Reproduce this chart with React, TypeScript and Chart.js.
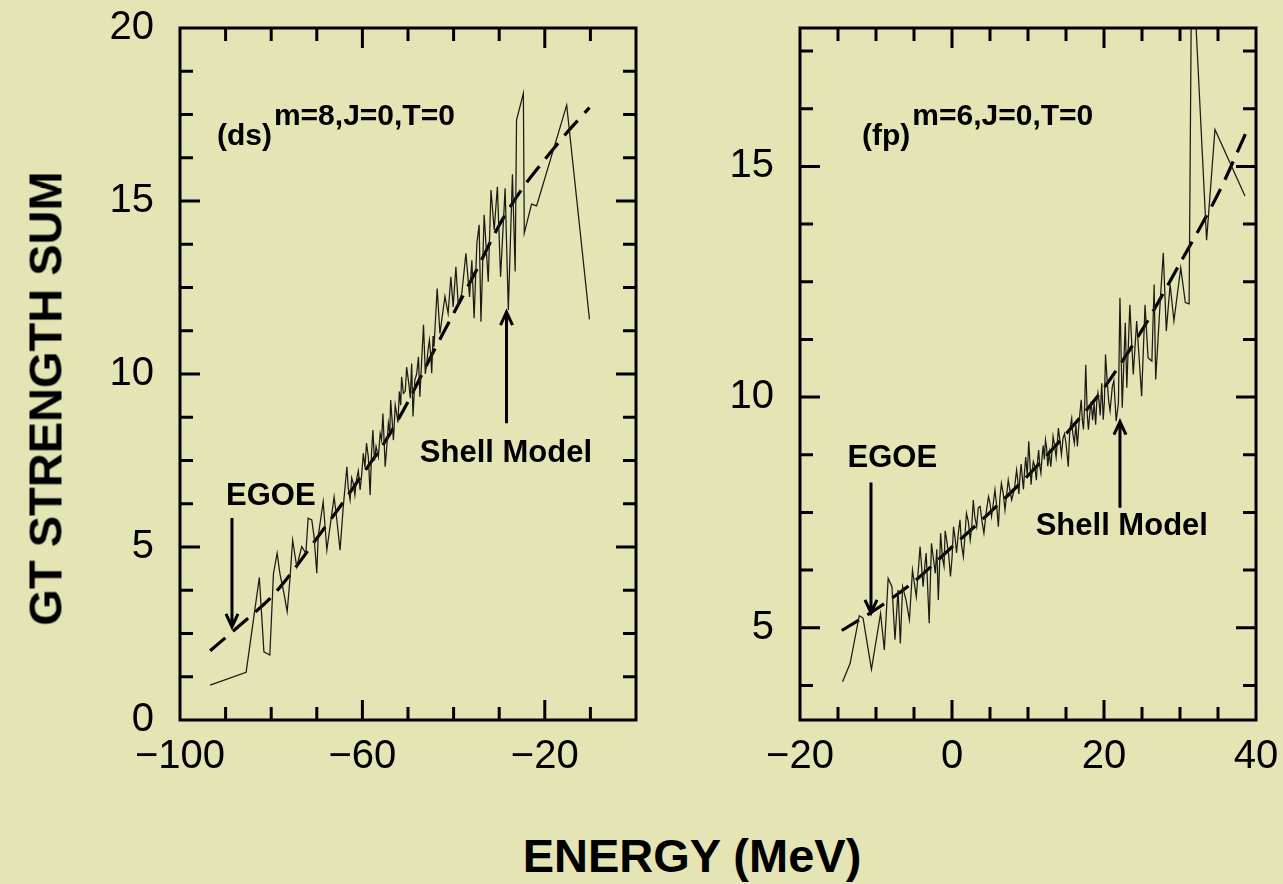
import React, { useEffect, useRef } from 'react';
import { Chart, registerables } from 'chart.js';

Chart.register(...registerables);

const FONT = '"Liberation Sans", Arial, Helvetica, sans-serif';
const BG = '#e5e4b4';

// ---------- Left panel: (ds)^{m=8,J=0,T=0} ----------
const leftShell: number[][] = [
  [-93.4, 1.01], [-85.5, 1.38], [-82.6, 4.12], [-81.6, 1.97], [-80.3, 1.88], [-79.5, 4.24],
  [-78.7, 4.82], [-78.1, 4.24], [-77.2, 3.66], [-76.5, 3.13], [-75.9, 4.05], [-75.3, 5.2],
  [-74.4, 4.43], [-73.3, 5.01], [-72.4, 4.82], [-71.9, 5.83], [-71.1, 5.78], [-70.6, 5.3],
  [-70.0, 4.24], [-69.7, 5.3], [-68.6, 6.31], [-67.8, 4.91], [-67.1, 5.59], [-66.2, 6.45],
  [-65.6, 5.78], [-64.9, 4.91], [-64.2, 6.16], [-63.4, 7.32], [-63.1, 6.7], [-62.7, 6.36],
  [-62.35, 7.0], [-62.0, 6.84], [-61.65, 6.5], [-61.3, 6.94], [-60.9, 7.2], [-60.5, 6.65],
  [-60.15, 7.1], [-59.8, 7.71], [-59.45, 7.3], [-59.1, 8.0], [-58.7, 7.6], [-58.3, 6.5],
  [-58.0, 7.7], [-57.7, 8.38], [-57.35, 7.5], [-57.0, 7.9], [-56.5, 7.6], [-56.1, 8.28],
  [-55.8, 8.1], [-55.5, 8.86], [-55.0, 7.32], [-54.6, 8.0], [-54.3, 8.58], [-54.0, 8.3],
  [-53.8, 9.25], [-53.5, 8.7], [-53.2, 8.09], [-52.8, 9.1], [-52.5, 8.86], [-52.2, 8.6],
  [-51.9, 9.49], [-51.6, 9.1], [-51.4, 9.92], [-51.0, 9.44], [-50.6, 9.5], [-50.3, 10.2],
  [-49.8, 9.7], [-49.5, 9.3], [-49.2, 10.3], [-48.9, 8.77], [-48.5, 9.83], [-48.1, 10.0],
  [-47.7, 10.5], [-47.4, 9.34], [-47.0, 10.4], [-46.6, 11.42], [-46.2, 10.0], [-45.9, 10.3],
  [-45.6, 10.7], [-45.3, 10.98], [-45.0, 10.5], [-44.8, 10.02], [-44.5, 11.1], [-44.3, 10.79],
  [-43.6, 12.47], [-43.0, 11.17], [-41.9, 12.24], [-41.2, 11.75], [-40.6, 12.81], [-40.1, 11.94],
  [-39.5, 13.1], [-39.0, 12.04], [-38.2, 12.33], [-37.3, 13.49], [-36.5, 12.23], [-36.0, 13.29],
  [-35.5, 11.61], [-34.9, 13.78], [-34.4, 14.31], [-34.0, 11.51], [-33.3, 14.6], [-32.4, 12.67],
  [-31.8, 15.32], [-31.1, 14.16], [-30.4, 15.41], [-29.7, 12.81], [-28.7, 15.37], [-28.0, 11.85],
  [-27.1, 15.77], [-26.5, 12.96], [-26.2, 17.34], [-24.7, 18.11], [-24.5, 14.07], [-22.9, 14.91],
  [-21.8, 14.86], [-15.2, 17.77], [-10.2, 11.58],
];
const leftEgoe: number[][] = [
  [-93.4, 2.0], [-85, 2.95], [-80, 3.55], [-75, 4.35], [-70, 5.25], [-65, 6.15], [-60, 7.1],
  [-55, 8.05], [-50, 9.2], [-45, 10.5], [-40, 11.75], [-35, 13.0], [-30, 14.3], [-25, 15.35],
  [-20, 16.2], [-15, 17.0], [-10.2, 17.7],
];
const leftXLabels = [-100, -60, -20];
const leftYLabels = [0, 5, 10, 15, 20];
const leftXTicks = [-90, -80, -70, -60, -50, -40, -30, -20, -10];
const leftXMajor = [-60, -20];
const leftYTicks = [1.25, 2.5, 3.75, 5, 6.25, 7.5, 8.75, 10, 11.25, 12.5, 13.75, 15, 16.25, 17.5, 18.75];
const leftYMajor = [5, 10, 15];

// ---------- Right panel: (fp)^{m=6,J=0,T=0} ----------
const rightShell: number[][] = [
  [-14.4, 3.83], [-13.4, 4.23], [-12.2, 5.26], [-11.7, 5.21], [-10.6, 4.1], [-9.4, 5.31],
  [-8.9, 4.52], [-8.4, 6.07], [-7.9, 5.89], [-7.5, 4.74], [-7.1, 5.82], [-6.8, 4.66],
  [-6.5, 5.89], [-6.05, 5.6], [-5.6, 5.17], [-5.2, 6.25], [-4.7, 5.67], [-4.2, 6.76],
  [-3.8, 5.89], [-3.6, 6.3], [-3.4, 6.62], [-3.0, 5.1], [-2.85, 6.0], [-2.7, 6.83],
  [-2.45, 6.5], [-2.2, 6.18], [-2.0, 6.7], [-1.8, 5.6], [-1.65, 6.3], [-1.5, 7.05],
  [-1.25, 6.5], [-1.05, 6.33], [-0.9, 7.1], [-0.7, 6.9], [-0.45, 6.6], [-0.2, 6.11],
  [0.0, 6.5], [0.2, 7.19], [0.4, 6.95], [0.6, 6.62], [0.8, 7.0], [1.05, 7.34],
  [1.25, 6.8], [1.5, 6.54], [1.7, 7.0], [1.9, 7.48], [2.15, 7.3], [2.4, 6.9],
  [2.6, 7.2], [2.8, 7.77], [3.0, 7.4], [3.25, 7.19], [3.45, 7.6], [3.7, 7.63],
  [3.95, 7.3], [4.2, 7.05], [4.5, 7.5], [4.8, 7.84], [5.0, 7.7], [5.2, 7.41],
  [5.4, 7.65], [5.65, 7.99], [5.9, 7.6], [6.1, 7.19], [6.3, 7.8], [6.5, 8.13],
  [6.75, 7.9], [6.97, 7.55], [7.2, 7.9], [7.4, 8.2], [7.6, 8.0], [7.85, 7.77],
  [8.2, 8.0], [8.5, 8.42], [8.65, 8.2], [8.8, 7.9], [8.95, 8.3], [9.1, 8.55],
  [9.25, 8.25], [9.4, 8.0], [9.55, 8.4], [9.7, 8.7], [9.9, 8.3], [10.1, 9.04],
  [10.25, 8.6], [10.4, 8.1], [10.55, 8.4], [10.7, 8.6], [10.9, 8.5], [11.1, 8.2],
  [11.25, 8.6], [11.4, 8.85], [11.55, 8.5], [11.7, 8.35], [11.85, 8.7], [12.0, 8.95],
  [12.15, 8.65], [12.3, 9.07], [12.45, 8.9], [12.6, 8.5], [12.8, 8.8], [13.0, 8.49],
  [13.15, 8.8], [13.3, 9.15], [13.5, 8.95], [13.7, 8.7], [13.85, 9.0], [14.0, 9.33],
  [14.2, 9.05], [14.4, 8.75], [14.6, 9.1], [14.8, 9.2], [15.0, 9.0], [15.3, 8.49],
  [15.5, 9.3], [15.75, 9.54], [15.9, 9.2], [16.1, 9.0], [16.3, 9.4], [16.5, 8.93],
  [16.65, 9.3], [16.8, 9.6], [17.0, 9.94], [17.15, 9.5], [17.3, 9.3], [17.45, 9.8],
  [17.6, 10.7], [17.8, 9.6], [17.95, 9.29], [18.1, 9.6], [18.3, 9.9], [18.5, 9.5],
  [18.7, 9.87], [18.9, 9.4], [19.05, 9.9], [19.2, 10.09], [19.35, 9.9], [19.5, 9.6],
  [19.7, 10.3], [19.9, 9.51], [20.05, 9.9], [20.2, 10.92], [20.4, 10.4], [20.6, 9.94],
  [20.8, 9.7], [21.1, 10.23], [21.3, 10.35], [21.6, 9.48], [21.9, 9.87], [22.1, 12.15],
  [22.4, 9.77], [22.8, 11.61], [23.0, 10.2], [23.4, 12.0], [23.85, 10.49], [24.3, 11.65],
  [24.95, 10.02], [25.4, 12.0], [25.8, 10.85], [26.3, 10.78], [26.6, 12.44], [26.8, 10.38],
  [27.4, 12.08], [27.8, 13.13], [28.2, 11.43], [28.7, 12.44], [29.2, 11.65], [30.1, 12.8],
  [30.7, 12.05], [31.2, 12.02], [31.55, 19.9], [33.5, 13.4], [34.6, 15.8], [38.55, 14.36],
];
const rightEgoe: number[][] = [
  [-14.5, 4.94], [-10, 5.4], [-5, 6.0], [0, 6.75], [5, 7.5], [10, 8.3], [15, 9.2],
  [20, 10.2], [25, 11.45], [30, 12.9], [35, 14.4], [38.6, 15.7],
];
const rightXLabels = [-20, 0, 20, 40];
const rightYLabels = [5, 10, 15];
const rightXTicks = [-15, -10, -5, 0, 5, 10, 15, 20, 25, 30, 35];
const rightXMajor = [0, 20];
const rightYTicks = [3.75, 5, 6.25, 7.5, 8.75, 10, 11.25, 12.5, 13.75, 15, 16.25, 17.5];
const rightYMajor = [5, 10, 15];

type Txt = { text: string; x: number; y: number; size: number; sup?: string; supSize?: number; rise?: number; gap?: number };
type Arrow = { x: number; from: number; to: number };
type Decor = { xTicks: number[]; xMajor: number[]; yTicks: number[]; yMajor: number[]; texts: Txt[]; arrows: Arrow[] };

function makeDecor(cfg: Decor) {
  return {
    id: 'decor',
    afterDatasetsDraw(chart: any) {
      const { ctx, chartArea: a, scales } = chart;
      const x = scales.x, y = scales.y;
      ctx.save();
      ctx.strokeStyle = '#000';
      ctx.lineWidth = 3;
      ctx.lineCap = 'butt';
      ctx.setLineDash([]);
      ctx.beginPath();
      for (const v of cfg.xTicks) {
        const px = x.getPixelForValue(v);
        const L = cfg.xMajor.includes(v) ? 20 : 13;
        ctx.moveTo(px, a.bottom); ctx.lineTo(px, a.bottom - L);
        ctx.moveTo(px, a.top); ctx.lineTo(px, a.top + L);
      }
      for (const v of cfg.yTicks) {
        const py = y.getPixelForValue(v);
        const L = cfg.yMajor.includes(v) ? 20 : 13;
        ctx.moveTo(a.left, py); ctx.lineTo(a.left + L, py);
        ctx.moveTo(a.right, py); ctx.lineTo(a.right - L, py);
      }
      ctx.stroke();
      ctx.strokeRect(a.left, a.top, a.right - a.left, a.bottom - a.top);

      for (const ar of cfg.arrows) {
        const px = x.getPixelForValue(ar.x);
        const y0 = y.getPixelForValue(ar.from);
        const y1 = y.getPixelForValue(ar.to);
        const dir = y1 > y0 ? 1 : -1;
        ctx.beginPath();
        ctx.moveTo(px, y0); ctx.lineTo(px, y1);
        ctx.moveTo(px - 6, y1 - dir * 13); ctx.lineTo(px, y1); ctx.lineTo(px + 6, y1 - dir * 13);
        ctx.stroke();
      }

      ctx.fillStyle = '#000';
      ctx.textAlign = 'left';
      ctx.textBaseline = 'alphabetic';
      for (const t of cfg.texts) {
        ctx.font = `bold ${t.size}px ${FONT}`;
        const px = x.getPixelForValue(t.x);
        const py = y.getPixelForValue(t.y);
        ctx.fillText(t.text, px, py);
        if (t.sup) {
          const w = ctx.measureText(t.text).width;
          ctx.font = `bold ${t.supSize}px ${FONT}`;
          ctx.fillText(t.sup, px + w + (t.gap || 0), py - (t.rise || 0));
        }
      }
      ctx.restore();
    },
  };
}

const fmt = (v: number) => (v < 0 ? '\u2212' + Math.abs(v) : String(v));

type PanelProps = {
  left: number; width: number; yAxisWidth: number; padRight: number;
  shell: number[][]; egoe: number[][];
  xMin: number; xMax: number; yMin: number; yMax: number;
  xLabels: number[]; yLabels: number[]; decor: Decor;
};

function Panel(p: PanelProps) {
  const ref = useRef<HTMLCanvasElement>(null);
  useEffect(() => {
    if (!ref.current) return;
    const tickFont = { family: FONT, size: 40 };
    const chart = new Chart(ref.current, {
      type: 'scatter',
      data: {
        datasets: [
          {
            label: 'Shell Model',
            data: p.shell.map(([x, y]) => ({ x, y })),
            showLine: true,
            borderColor: '#1a1a16',
            borderWidth: 1.25,
            pointRadius: 0,
            tension: 0,
          },
          {
            label: 'EGOE',
            data: p.egoe.map(([x, y]) => ({ x, y })),
            showLine: true,
            borderColor: '#000',
            borderWidth: 3.2,
            borderDash: [20, 10],
            pointRadius: 0,
            tension: 0.3,
          },
        ],
      },
      options: {
        animation: false,
        responsive: false,
        maintainAspectRatio: false,
        layout: { padding: { top: 28, right: p.padRight, left: 0, bottom: 0 } },
        plugins: { legend: { display: false }, tooltip: { enabled: false } },
        scales: {
          x: {
            type: 'linear', min: p.xMin, max: p.xMax,
            grid: { display: false, drawTicks: false },
            border: { display: false },
            ticks: { font: tickFont, color: '#000', padding: 13, maxRotation: 0, minRotation: 0, autoSkip: false, callback: (v: any) => fmt(Number(v)) },
            afterBuildTicks: (s: any) => { s.ticks = p.xLabels.map((v) => ({ value: v })); },
            afterFit: (s: any) => { s.height = 80; s.paddingLeft = 0; s.paddingRight = 0; },
          },
          y: {
            type: 'linear', min: p.yMin, max: p.yMax,
            grid: { display: false, drawTicks: false },
            border: { display: false },
            ticks: { font: tickFont, color: '#000', padding: 26, autoSkip: false, callback: (v: any) => fmt(Number(v)) },
            afterBuildTicks: (s: any) => { s.ticks = p.yLabels.map((v) => ({ value: v })); },
            afterFit: (s: any) => { s.width = p.yAxisWidth; s.paddingTop = 0; s.paddingBottom = 0; },
          },
        },
      } as any,
      plugins: [makeDecor(p.decor)],
    });
    return () => chart.destroy();
  }, []);
  return (
    <canvas
      ref={ref}
      width={p.width}
      height={800}
      style={{ position: 'absolute', left: p.left, top: 0, width: p.width, height: 800 }}
    />
  );
}

export default function App() {
  return (
    <div style={{ position: 'fixed', left: 0, top: 0, width: 1283, height: 884, background: BG, overflow: 'hidden', fontFamily: FONT }}>
      <Panel
        left={0} width={700} yAxisWidth={180} padRight={64}
        shell={leftShell} egoe={leftEgoe}
        xMin={-100} xMax={0} yMin={0} yMax={20}
        xLabels={leftXLabels} yLabels={leftYLabels}
        decor={{
          xTicks: leftXTicks, xMajor: leftXMajor, yTicks: leftYTicks, yMajor: leftYMajor,
          texts: [
            { text: '(ds)', x: -91.9, y: 16.62, size: 30, sup: 'm=8,J=0,T=0', supSize: 30, rise: 20, gap: 2 },
            { text: 'EGOE', x: -89.9, y: 6.21, size: 31 },
            { text: 'Shell Model', x: -47.4, y: 7.46, size: 31 },
          ],
          arrows: [
            { x: -88.6, from: 5.84, to: 2.69 },
            { x: -28.4, from: 8.58, to: 11.79 },
          ],
        }}
      />
      <Panel
        left={700} width={583} yAxisWidth={100} padRight={27}
        shell={rightShell} egoe={rightEgoe}
        xMin={-20} xMax={40} yMin={3} yMax={18}
        xLabels={rightXLabels} yLabels={rightYLabels}
        decor={{
          xTicks: rightXTicks, xMajor: rightXMajor, yTicks: rightYTicks, yMajor: rightYMajor,
          texts: [
            { text: '(fp)', x: -11.84, y: 15.47, size: 30, sup: 'm=6,J=0,T=0', supSize: 30, rise: 20, gap: 2 },
            { text: 'EGOE', x: -13.74, y: 8.49, size: 31 },
            { text: 'Shell Model', x: 11.01, y: 7.01, size: 31 },
          ],
          arrows: [
            { x: -10.66, from: 8.15, to: 5.32 },
            { x: 22.1, from: 7.6, to: 9.47 },
          ],
        }}
      />
      <div
        style={{
          position: 'absolute', left: 45 - 300, top: 398 - 23.5, width: 600, height: 47,
          lineHeight: '47px', fontSize: 47, fontWeight: 'bold', textAlign: 'center',
          transform: 'rotate(-90deg)', color: '#000', whiteSpace: 'nowrap',
        }}
      >
        GT STRENGTH SUM
      </div>
      <div
        style={{
          position: 'absolute', left: 692 - 300, top: 832, width: 600, height: 47,
          lineHeight: '47px', fontSize: 47, fontWeight: 'bold', textAlign: 'center',
          color: '#000', whiteSpace: 'nowrap',
        }}
      >
        ENERGY (MeV)
      </div>
    </div>
  );
}
